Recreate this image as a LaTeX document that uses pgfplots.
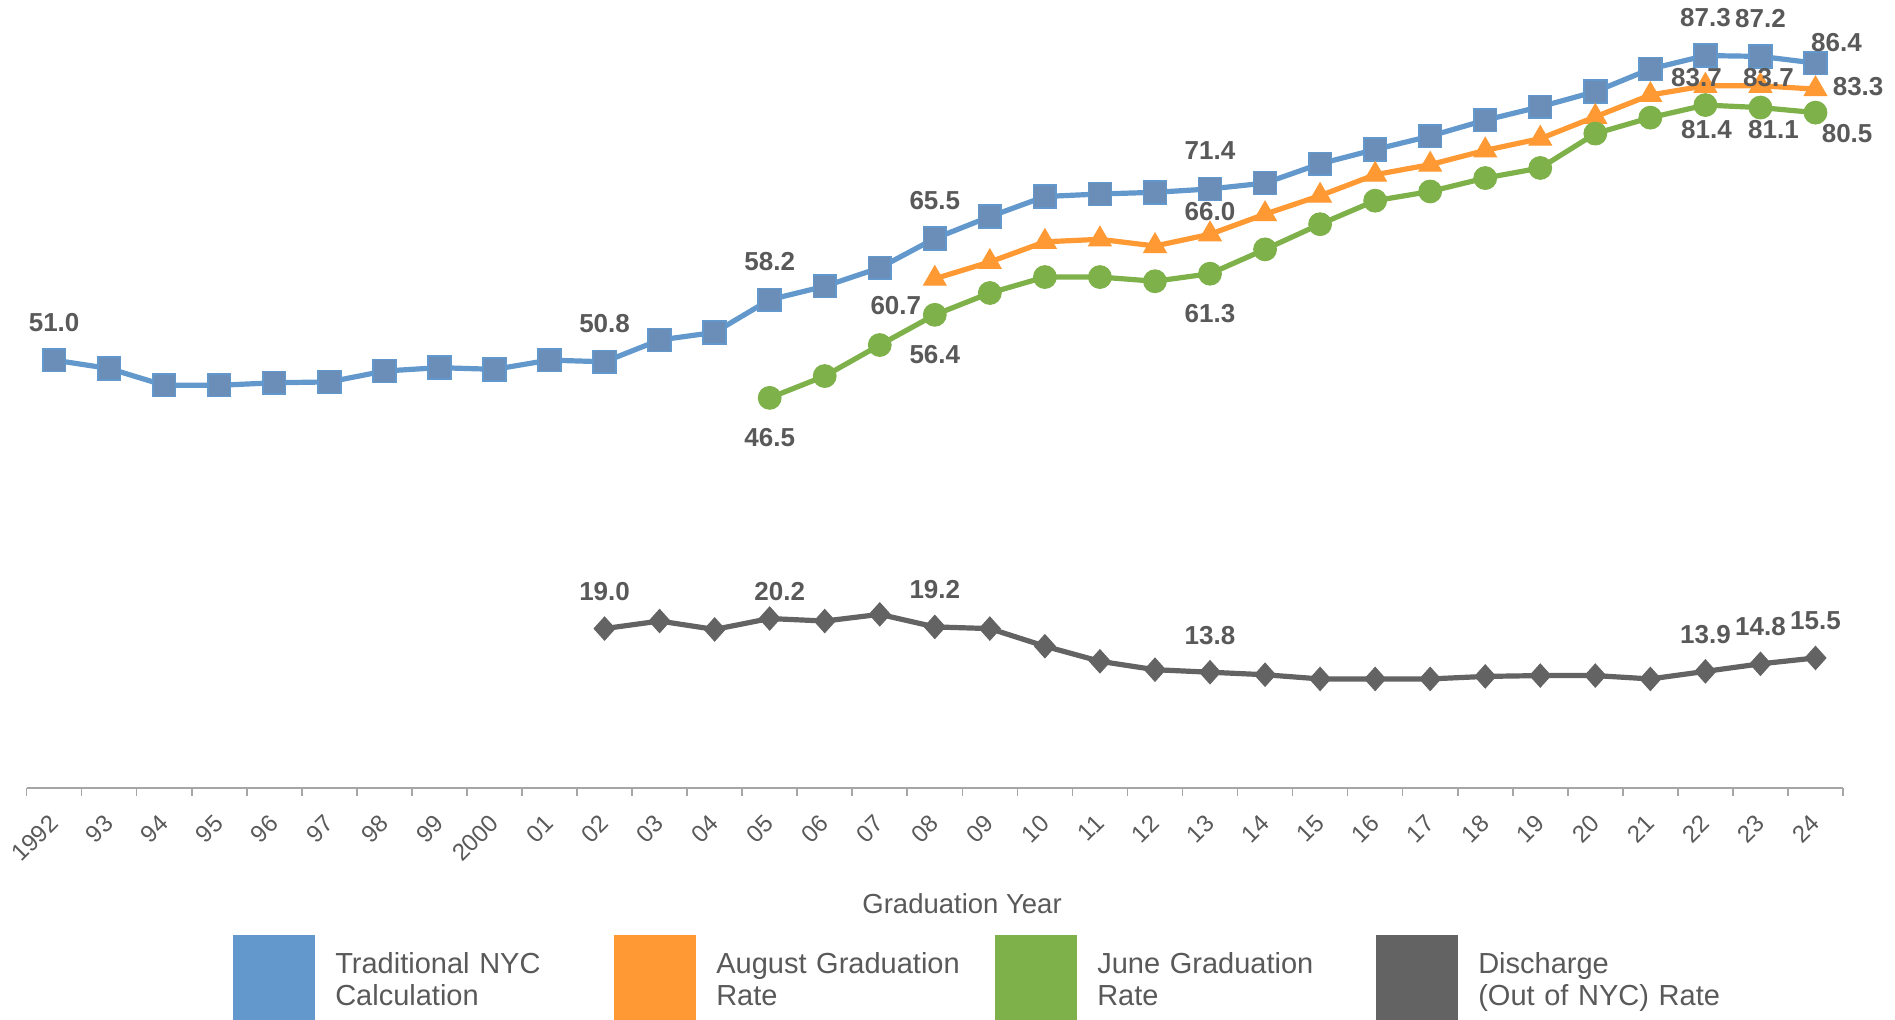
\documentclass[border=0pt]{standalone}
\usepackage{fontspec}
\setmainfont{Liberation Sans}
\usepackage{pgfplots}
\pgfplotsset{compat=1.18}
\definecolor{cblue}{HTML}{6398CC}
\definecolor{cbluem}{HTML}{6A8EB7}
\definecolor{corange}{HTML}{FF9933}
\definecolor{cgreen}{HTML}{7FB14B}
\definecolor{cgray}{HTML}{636363}
\definecolor{ctext}{HTML}{595959}
\definecolor{caxis}{HTML}{A6A6A6}
\begin{document}
\begin{tikzpicture}
\begin{axis}[
  at={(13.3pt,115.5pt)}, anchor=south west,
  scale only axis, width=908.2pt, height=377.55pt,
  xmin=-0.5, xmax=32.5, ymin=0, ymax=90,
  axis y line=none, axis x line=bottom,
  x axis line style={-, draw=caxis, line width=0.9pt},
  xtick={0,...,32},
  xticklabels={1992,93,94,95,96,97,98,99,2000,01,02,03,04,05,06,07,08,09,10,11,12,13,14,15,16,17,18,19,20,21,22,23,24},
  major tick length=0pt,
  minor xtick={-0.5,0.5,...,32.5},
  minor tick length=3.9pt,
  minor x tick style={draw=caxis, line width=0.8pt},
  tick align=outside,
  /pgf/number format/assume math mode=true,
  xticklabel style={font=\fontsize{12}{14}\selectfont, text=ctext, yshift=-15.5pt, rotate=45, anchor=east, inner sep=0pt},
  xlabel={Graduation Year},
  xlabel style={at={(axis description cs:0.515,0)}, anchor=center, yshift=-58pt, font=\fontsize{13.75}{15}\selectfont, text=ctext},
  clip=false,
  legend columns=4,
  legend cell align=left,
  legend style={at={(axis description cs:0.1138,-0.1947)}, anchor=north west, draw=none, fill=none, inner sep=0pt, outer sep=0pt,
    font=\fontsize{14.5}{15.9}\selectfont, text=ctext,
    nodes={inner sep=0pt, text width=139.5pt, align=left},
    column sep=0pt,
    /tikz/every odd column/.append style={column sep=10.4pt},
    /tikz/every even column/.append style={column sep=0pt}},
]
\addplot[cblue, line width=2.6pt, mark=square*, mark size=5.7pt, mark options={fill=cbluem, draw=cblue, line width=0.8pt},
  legend image code/.code={\fill[cblue] (0pt,-31.5pt) rectangle (38pt,13.5pt);}]
  coordinates {(0,51.0)(1,50.0)(2,48.0)(3,48.0)(4,48.3)(5,48.4)(6,49.7)(7,50.1)(8,49.9)(9,51.0)(10,50.8)(11,53.4)(12,54.3)(13,58.2)(14,59.8)(15,62.0)(16,65.5)(17,68.1)(18,70.5)(19,70.8)(20,71.0)(21,71.4)(22,72.1)(23,74.4)(24,76.1)(25,77.7)(26,79.6)(27,81.2)(28,83.0)(29,85.7)(30,87.3)(31,87.2)(32,86.4)};
\addlegendentry{Traditional NYC\\Calculation}
\addplot[corange, line width=2.6pt, mark=triangle*, mark size=6.5pt, mark options={fill=corange, draw=corange, line width=0.5pt},
  legend image code/.code={\fill[corange] (0pt,-31.5pt) rectangle (38pt,13.5pt);}]
  coordinates {(16,60.7)(17,62.7)(18,65.1)(19,65.4)(20,64.6)(21,66.0)(22,68.4)(23,70.6)(24,73.1)(25,74.3)(26,76.0)(27,77.4)(28,80.0)(29,82.6)(30,83.7)(31,83.7)(32,83.3)};
\addlegendentry{August Graduation\\Rate}
\addplot[cgreen, line width=2.6pt, mark=*, mark size=5.7pt, mark options={fill=cgreen, draw=cgreen, line width=0.5pt},
  legend image code/.code={\fill[cgreen] (0pt,-31.5pt) rectangle (38pt,13.5pt);}]
  coordinates {(13,46.5)(14,49.1)(15,52.8)(16,56.4)(17,59.0)(18,60.9)(19,60.9)(20,60.4)(21,61.3)(22,64.2)(23,67.2)(24,70.0)(25,71.1)(26,72.7)(27,73.9)(28,78.0)(29,79.9)(30,81.4)(31,81.1)(32,80.5)};
\addlegendentry{June Graduation\\Rate}
\addplot[cgray, line width=2.6pt, mark=diamond*, mark size=5.8pt, mark options={fill=cgray, draw=cgray, line width=0.5pt, xscale=1.2},
  legend image code/.code={\fill[cgray] (0pt,-31.5pt) rectangle (38pt,13.5pt);}]
  coordinates {(10,19.0)(11,19.9)(12,18.9)(13,20.2)(14,19.9)(15,20.7)(16,19.2)(17,19.0)(18,16.9)(19,15.1)(20,14.1)(21,13.8)(22,13.5)(23,13.0)(24,13.0)(25,13.0)(26,13.3)(27,13.4)(28,13.4)(29,13.0)(30,13.9)(31,14.8)(32,15.5)};
\addlegendentry{Discharge\\(Out of NYC) Rate}
% data labels
\pgfplotsset{lbl/.style n args={2}{forget plot, draw=none, mark=none, nodes near coords, point meta=explicit symbolic,
  nodes near coords style={anchor=center, inner sep=0pt, font=\bfseries\fontsize{13}{15}\selectfont, text=ctext, xshift=#1, yshift=#2}}}
\addplot[lbl={0pt}{19pt}] coordinates {(0,51.0)[51.0] (10,50.8)[50.8] (13,58.2)[58.2] (16,65.5)[65.5] (21,71.4)[71.4] (30,87.3)[87.3] (31,87.2)[87.2]};
\addplot[lbl={10.5pt}{10.5pt}] coordinates {(32,86.4)[86.4]};
\addplot[lbl={-19.5pt}{-13.5pt}] coordinates {(16,60.7)[60.7]};
\addplot[lbl={0pt}{11.5pt}] coordinates {(21,66.0)[66.0]};
\addplot[lbl={-4.5pt}{4pt}] coordinates {(30,83.7)[83.7]};
\addplot[lbl={4pt}{4pt}] coordinates {(31,83.7)[83.7]};
\addplot[lbl={21.3pt}{1.3pt}] coordinates {(32,83.3)[83.3]};
\addplot[lbl={0pt}{-20pt}] coordinates {(13,46.5)[46.5] (16,56.4)[56.4] (21,61.3)[61.3]};
\addplot[lbl={0.5pt}{-12pt}] coordinates {(30,81.4)[81.4]};
\addplot[lbl={6.5pt}{-11pt}] coordinates {(31,81.1)[81.1]};
\addplot[lbl={15.8pt}{-10.7pt}] coordinates {(32,80.5)[80.5]};
\addplot[lbl={0pt}{18.5pt}] coordinates {(10,19.0)[19.0] (16,19.2)[19.2] (21,13.8)[13.8] (30,13.9)[13.9] (31,14.8)[14.8] (32,15.5)[15.5]};
\addplot[lbl={5pt}{13.5pt}] coordinates {(13,20.2)[20.2]};
\end{axis}
\pgfresetboundingbox
\path[use as bounding box] (0,0) rectangle (947.5pt,509.5pt);
\end{tikzpicture}
\end{document}
